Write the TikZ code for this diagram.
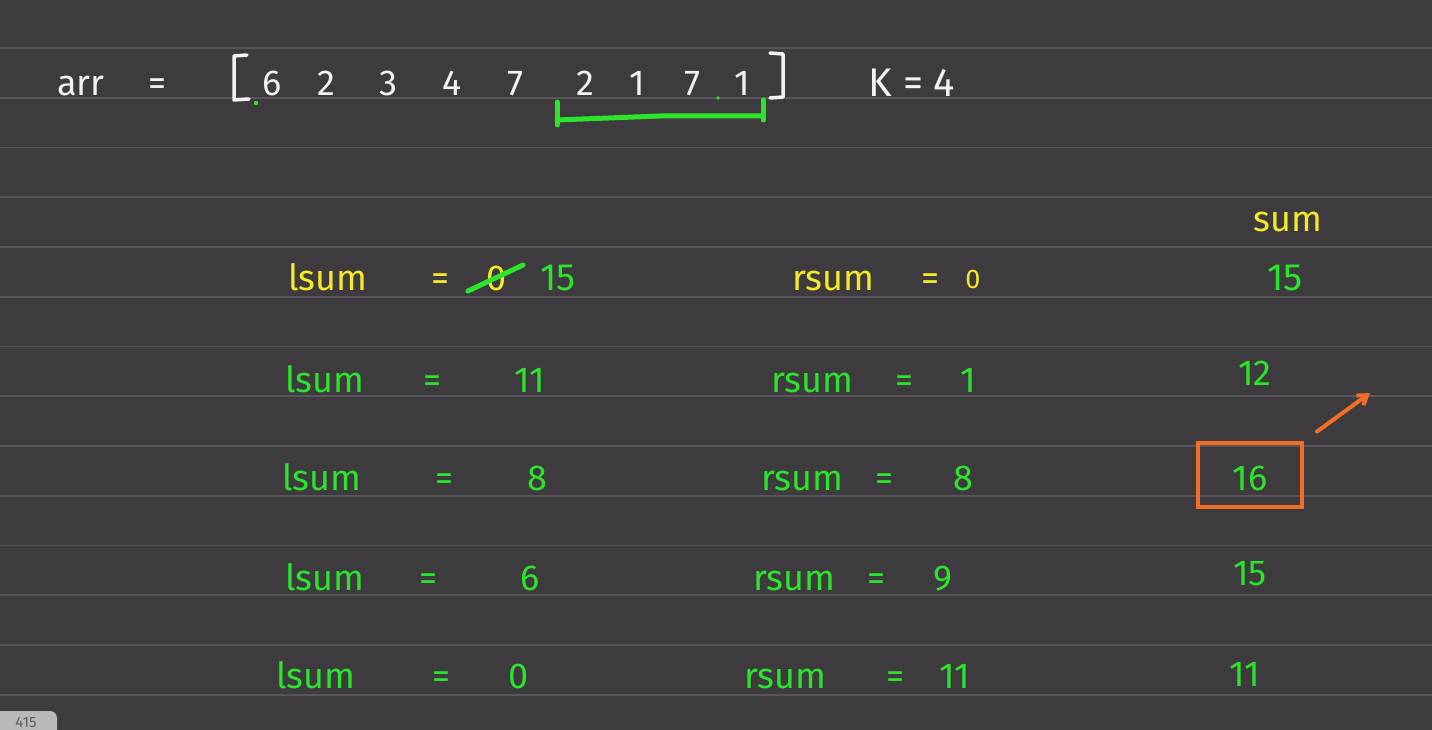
\documentclass[tikz,border=0pt]{standalone}
\usepackage{fontspec}
\setmainfont{Fira Sans}
\usetikzlibrary{arrows.meta}
\definecolor{bg}{RGB}{61,59,62}
\definecolor{rulec}{RGB}{88,86,91}
\definecolor{chalk}{RGB}{242,242,242}
\definecolor{hlgreen}{RGB}{45,228,45}
\definecolor{hlyellow}{RGB}{246,234,40}
\definecolor{hlorange}{RGB}{240,110,40}
\definecolor{taggrey}{RGB}{185,185,188}
\definecolor{tagtext}{RGB}{95,95,98}
\begin{document}
\begin{tikzpicture}[x=1pt,y=-1pt,
  hw/.style={font=\fontsize{36}{40}\selectfont, inner sep=0pt, anchor=base},
  small/.style={font=\fontsize{27}{30}\selectfont},
  wt/.style={hw, text=chalk},
  yt/.style={hw, text=hlyellow},
  gt/.style={hw, text=hlgreen},
  rulel/.style={draw=rulec, line width=1.6pt},
  wline/.style={draw=chalk, line width=3.5pt, line cap=round, line join=round},
  gline/.style={draw=hlgreen, line width=5pt, line cap=round},
  oline/.style={draw=hlorange, line width=4pt, line cap=round},
]
\fill[bg] (0,0) rectangle (1432,730);
\useasboundingbox (0,0) rectangle (1432,730);
\foreach \i in {0,...,13} \draw[rulel] (0,48+49.75*\i) -- (1432,48+49.75*\i);

% top row
\node[wt] (arr) at (81,96) {arr};
\node[wt] (eq0) at (157,96) {=};
\draw[wline] (247,55) -- (234,56) -- (234,100) -- (249,99);
\draw[wline] (770,53) -- (783,54) -- (783,97) -- (770,98);
\node[wt] (a1) at (272,96) {6};
\node[wt] (a2) at (326,96) {2};
\node[wt] (a3) at (388,96) {3};
\node[wt] (a4) at (452,96) {4};
\node[wt] (a5) at (515,96) {7};
\node[wt] (a6) at (585,96) {2};
\node[wt] (a7) at (637,96) {1};
\node[wt] (a8) at (692,96) {7};
\node[wt] (a9) at (742,96) {1};
\fill[hlgreen] (256,103) circle (2.2);
\fill[hlgreen] (718,98) circle (1.8);
\node[wt, font=\fontsize{40}{44}\selectfont] (k) at (912,97) {K = 4};
\draw[gline] (557,102) -- (557,125);
\draw[gline] (557,120) -- (660,116) -- (763,116);
\draw[gline] (763,100) -- (763,120);

% header
\node[yt] (sumh) at (1288,232) {sum};

% row 1
\node[yt] (l1) at (328,290) {lsum};
\node[yt] (e1) at (440,290) {=};
\node[yt] (z1) at (497,290) {0};
\draw[gline] (468,291) -- (523,265);
\node[gt, font=\fontsize{38}{42}\selectfont] (v1) at (558,290) {15};
\node[yt] (r1) at (833,290) {rsum};
\node[yt] (f1) at (930,290) {=};
\node[yt, small] (w1) at (973,288) {0};
\node[gt, font=\fontsize{38}{42}\selectfont] (s1) at (1285,290) {15};

% row 2
\node[gt] (l2) at (325,392) {lsum};
\node[gt] (e2) at (432,392) {=};
\node[gt] (v2) at (530,392) {11};
\node[gt] (r2) at (812,392) {rsum};
\node[gt] (f2) at (904,392) {=};
\node[gt] (w2) at (968,392) {1};
\node[gt] (s2) at (1255,385) {12};

% row 3
\node[gt] (l3) at (322,490) {lsum};
\node[gt] (e3) at (444,490) {=};
\node[gt] (v3) at (537,490) {8};
\node[gt] (r3) at (802,490) {rsum};
\node[gt] (f3) at (884,490) {=};
\node[gt] (w3) at (963,490) {8};
\node[gt] (s3) at (1250,490) {16};

% row 4
\node[gt] (l4) at (325,590) {lsum};
\node[gt] (e4) at (428,590) {=};
\node[gt] (v4) at (530,590) {6};
\node[gt] (r4) at (794,590) {rsum};
\node[gt] (f4) at (876,590) {=};
\node[gt] (w4) at (943,590) {9};
\node[gt] (s4) at (1250,585) {15};

% row 5
\node[gt] (l5) at (316,688) {lsum};
\node[gt] (e5) at (441,688) {=};
\node[gt] (v5) at (519,688) {0};
\node[gt] (r5) at (785,688) {rsum};
\node[gt] (f5) at (895,688) {=};
\node[gt] (w5) at (955,688) {11};
\node[gt] (s5) at (1245,686) {11};

% highlight box and arrow
\node[draw=hlorange, line width=4pt, minimum width=104pt, minimum height=64pt] (hl) at (1250,475) {};
\coordinate (tip) at (1370,393);
\draw[oline, shorten <=16pt, -{Straight Barb[length=9pt, width=12pt]}] (hl.north east) -- (tip);

% overlay tag
\fill[taggrey, rounded corners=7pt] (-10,711) rectangle (57,745);
\node[font=\fontsize{15}{16}\selectfont, text=tagtext, inner sep=0pt, anchor=base] (tag) at (26,727) {415};
\end{tikzpicture}
\end{document}
